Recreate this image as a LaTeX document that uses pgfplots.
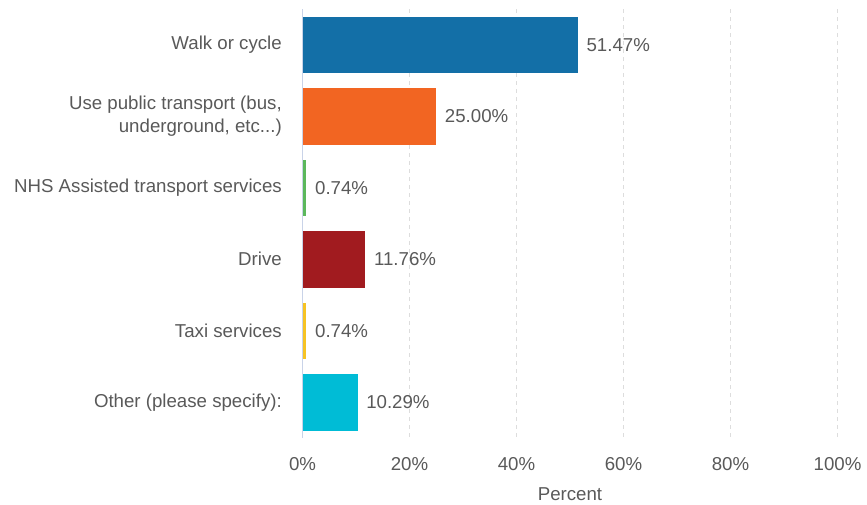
\documentclass[border=0pt]{standalone}
\usepackage{pgfplots}
\pgfplotsset{compat=1.18}
\usepackage{fontspec}
\setmainfont{Liberation Sans}
\definecolor{txt}{HTML}{595959}
\definecolor{axc}{HTML}{C9D3E8}
\definecolor{grd}{HTML}{DDDDDD}
\definecolor{c1}{HTML}{136FA7}
\definecolor{c2}{HTML}{F26522}
\definecolor{c3}{HTML}{5CB85C}
\definecolor{c4}{HTML}{A11B1F}
\definecolor{c5}{HTML}{F6C324}
\definecolor{c6}{HTML}{00BCD6}
\newcommand\threedots{...}
\newcommand\fnt{\fontsize{14}{17}\selectfont}
\begin{document}
\begin{tikzpicture}[x=0.75pt,y=0.75pt]
\path[use as bounding box] (-302.5,-66) rectangle (564.5,429+9);
\begin{axis}[
  at={(0,0)}, anchor=south west,
  scale only axis, width=401.25pt, height=321.75pt,
  xbar, bar width=0.79, bar shift=0pt,
  xmin=0, xmax=100, ymin=-0.5, ymax=5.5, y dir=reverse,
  xtick={0,20,40,60,80,100},
  xticklabel={\pgfmathprintnumber[assume math mode=true]{\tick}\%},
  ytick={0,1,2,3,4,5},
  yticklabels={Walk or cycle,{Use public transport (bus,\\underground, etc\threedots)},NHS Assisted transport services,Drive,Taxi services,Other (please specify):},
  yticklabel style={align=right, font=\fnt, text=txt, xshift=-12pt},
  xticklabel style={font=\fnt, text=txt, yshift=-11pt},
  xlabel={Percent}, xlabel style={font=\fnt, text=txt, yshift=-6pt},
  major tick length=0pt,
  axis line style={draw=none},
  axis x line*=bottom, axis y line*=left,
  xmajorgrids, major grid style={grd, dashed, line width=0.6pt},
  nodes near coords={\pgfmathprintnumber[fixed,fixed zerofill,precision=2,assume math mode=true]{\pgfplotspointmeta}\%},
  nodes near coords style={font=\fnt, text=txt, anchor=west, xshift=3pt},
  point meta=x,
  clip=false,
]
\addplot[fill=c1, draw=none] coordinates {(51.47,0)};
\addplot[fill=c2, draw=none] coordinates {(25.00,1)};
\addplot[fill=c3, draw=none] coordinates {(0.74,2)};
\addplot[fill=c4, draw=none] coordinates {(11.76,3)};
\addplot[fill=c5, draw=none] coordinates {(0.74,4)};
\addplot[fill=c6, draw=none] coordinates {(10.29,5)};
\draw[axc, line width=0.8pt] (axis cs:0,-0.5) -- (axis cs:0,5.5);
\end{axis}
\end{tikzpicture}
\end{document}
